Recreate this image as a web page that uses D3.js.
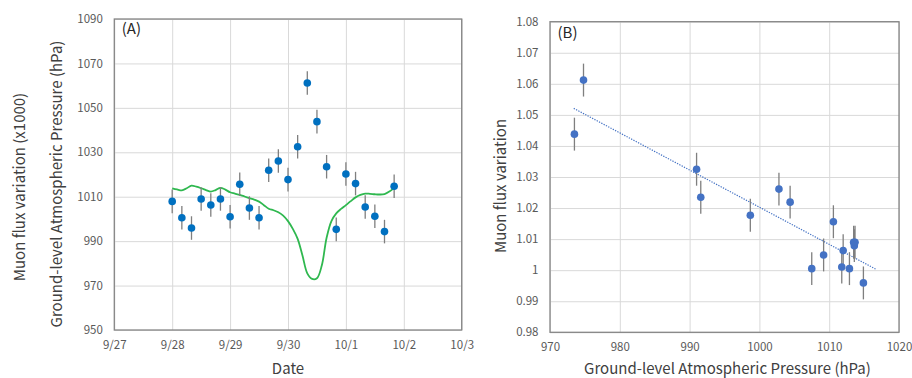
<!DOCTYPE html>
<html>
<head>
<meta charset="utf-8">
<script src="https://cdn.jsdelivr.net/npm/d3@7"></script>
<style>
  body { margin: 0; background: #fff; }
  svg text { font-family: "Noto Sans CJK JP", "Noto Sans", sans-serif; }
  .tick text { fill: #595959; font-size: 11.5px; }
  .grid line { stroke: #d9d9d9; stroke-width: 1; }
  .grid .domain { display: none; }
</style>
</head>
<body>
<div id="chart"></div>
<script>
// muon flux (x1000), every 4 hours from 9/28 00:00
var fluxHours = [0, 4, 8, 12, 16, 20, 24, 28, 32, 36, 40, 44, 48, 52, 56, 60, 64, 68, 72, 76, 80, 84, 88, 92];
var fluxValues = [1007.9, 1000.5, 995.9, 1009.0, 1006.3, 1009.0, 1001.0, 1015.6, 1004.9, 1000.5, 1021.9, 1026.1,
                  1017.7, 1032.5, 1061.2, 1043.8, 1023.5, 995.3, 1020.2, 1015.9, 1005.4, 1001.2, 994.3, 1014.7];
var fluxErr = 5.3;

// ground-level pressure, every 2 hours from 9/28 00:00
var pressHours = d3.range(0, 93, 2);
var pressValues = [1013.8, 1013.3, 1012.9, 1013.8, 1015.0, 1014.5, 1013.8, 1013.0, 1012.3, 1013.0, 1014.0, 1013.2,
                   1012.0, 1011.4, 1010.8, 1010.1, 1009.4, 1008.7, 1007.8, 1006.2, 1004.6, 1003.9, 1003.0, 1001.5,
                   999.0, 995.5, 991.0, 983.5, 975.5, 973.0, 973.3, 979.0, 991.5, 999.0, 1002.5, 1004.5,
                   1006.2, 1008.0, 1009.7, 1010.8, 1011.4, 1011.3, 1011.1, 1011.0, 1011.2, 1012.3, 1014.0];

// panel B: pressure at the first 17 flux samples
var scatterPress = [1013.6, 1012.9, 1014.9, 1013.5, 1012.0, 1013.7, 1011.8, 1010.6, 1009.2, 1007.5, 1004.4, 1002.8,
                    998.7, 991.0, 974.8, 973.5, 991.6];
var trendPress = [973.4, 1016.7];
var trendFlux = [1.0521, 1.0003];

var dateTicks = ["2018-09-27", "2018-09-28", "2018-09-29", "2018-09-30", "2018-10-01", "2018-10-02", "2018-10-03"];
var leftTicks = [950, 970, 990, 1010, 1030, 1050, 1070, 1090];
var bxTicks = [970, 980, 990, 1000, 1010, 1020];
var byTicks = [0.98, 0.99, 1.00, 1.01, 1.02, 1.03, 1.04, 1.05, 1.06, 1.07, 1.08];

var start = new Date(Date.UTC(2018, 8, 28));
function hourDate(h) { return new Date(start.getTime() + h * 3600e3); }

var svg = d3.select("#chart").append("svg")
  .attr("width", 912)
  .attr("height", 378);

// ---------- panel A ----------
var a = { left: 114.3, top: 19, width: 347.4, height: 311 };
var gA = svg.append("g").attr("transform", `translate(${a.left}, ${a.top})`);

var xA = d3.scaleUtc()
  .domain([new Date(dateTicks[0]), new Date(dateTicks[dateTicks.length - 1])])
  .range([0, a.width]);
var yA = d3.scaleLinear().domain([950, 1090]).range([a.height, 0]);
var dateVals = dateTicks.map(d => new Date(d));

gA.append("g").attr("class", "grid")
  .call(d3.axisLeft(yA).tickValues(leftTicks).tickSize(-a.width).tickFormat(""));
gA.append("g").attr("class", "grid")
  .call(d3.axisTop(xA).tickValues(dateVals).tickSize(-a.height).tickFormat(""));

gA.append("rect")
  .attr("width", a.width).attr("height", a.height)
  .attr("fill", "none").attr("stroke", "#868686").attr("stroke-width", 1.3);

var axA = gA.append("g")
  .call(d3.axisLeft(yA).tickValues(leftTicks).tickSize(0).tickPadding(11.5).tickFormat(d3.format("d")));
axA.select(".domain").remove();
var axAx = gA.append("g")
  .attr("transform", `translate(0, ${a.height})`)
  .call(d3.axisBottom(xA).tickValues(dateVals).tickSize(0).tickPadding(11).tickFormat(d3.utcFormat("%-m/%-d")));
axAx.select(".domain").remove();

var pressLine = d3.line()
  .x((d, i) => xA(hourDate(pressHours[i])))
  .y(d => yA(d))
  .curve(d3.curveCatmullRom);
gA.append("path")
  .datum(pressValues)
  .attr("d", pressLine)
  .attr("fill", "none")
  .attr("stroke", "#2fb84f")
  .attr("stroke-width", 1.8);

gA.selectAll(".errA")
  .data(fluxValues)
  .enter()
  .append("line")
  .attr("x1", (d, i) => xA(hourDate(fluxHours[i])))
  .attr("x2", (d, i) => xA(hourDate(fluxHours[i])))
  .attr("y1", d => yA(d - fluxErr))
  .attr("y2", d => yA(d + fluxErr))
  .attr("stroke", "#7f7f7f")
  .attr("stroke-width", 1.3);

gA.selectAll(".ptA")
  .data(fluxValues)
  .enter()
  .append("circle")
  .attr("cx", (d, i) => xA(hourDate(fluxHours[i])))
  .attr("cy", d => yA(d))
  .attr("r", 3.8)
  .attr("fill", "#0070c0");

gA.append("text")
  .attr("x", 7.5).attr("y", 14.5)
  .attr("font-size", 15).attr("fill", "#262626")
  .text("(A)");

svg.append("text")
  .attr("text-anchor", "middle")
  .attr("x", a.left + a.width / 2).attr("y", 374)
  .attr("font-size", 15).attr("fill", "#404040")
  .text("Date");
svg.append("text")
  .attr("text-anchor", "middle")
  .attr("transform", "translate(24.5, 187)rotate(-90)")
  .attr("font-size", 15).attr("fill", "#404040")
  .text("Muon flux variation (x1000)");
svg.append("text")
  .attr("text-anchor", "middle")
  .attr("transform", "translate(62, 184)rotate(-90)")
  .attr("font-size", 15).attr("fill", "#404040")
  .text("Ground-level Atmospheric Pressure (hPa)");

// ---------- panel B ----------
var b = { left: 550, top: 21.7, width: 349, height: 310.6 };
var gB = svg.append("g").attr("transform", `translate(${b.left}, ${b.top})`);

var xB = d3.scaleLinear().domain([970, 1020]).range([0, b.width]);
var yB = d3.scaleLinear().domain([0.98, 1.08]).range([b.height, 0]);

gB.append("g").attr("class", "grid")
  .call(d3.axisLeft(yB).tickValues(byTicks).tickSize(-b.width).tickFormat(""));
gB.append("g").attr("class", "grid")
  .call(d3.axisTop(xB).tickValues(bxTicks).tickSize(-b.height).tickFormat(""));

gB.append("rect")
  .attr("width", b.width).attr("height", b.height)
  .attr("fill", "none").attr("stroke", "#868686").attr("stroke-width", 1.3);

var axB = gB.append("g")
  .call(d3.axisLeft(yB).tickValues(byTicks).tickSize(0).tickPadding(11.5).tickFormat(d => String(+d.toFixed(2))));
axB.select(".domain").remove();
var axBx = gB.append("g")
  .attr("transform", `translate(0, ${b.height})`)
  .call(d3.axisBottom(xB).tickValues(bxTicks).tickSize(0).tickPadding(11).tickFormat(d3.format("d")));
axBx.select(".domain").remove();

gB.append("line")
  .attr("x1", xB(trendPress[0])).attr("y1", yB(trendFlux[0]))
  .attr("x2", xB(trendPress[1])).attr("y2", yB(trendFlux[1]))
  .attr("stroke", "#4472c4")
  .attr("stroke-width", 1.2)
  .attr("stroke-dasharray", "1.3,1.3");

var scatter = scatterPress.map((p, i) => ({ p: p, f: fluxValues[i] / 1000 }));

gB.selectAll(".errB")
  .data(scatter)
  .enter()
  .append("line")
  .attr("x1", d => xB(d.p))
  .attr("x2", d => xB(d.p))
  .attr("y1", d => yB(d.f - fluxErr / 1000))
  .attr("y2", d => yB(d.f + fluxErr / 1000))
  .attr("stroke", "#7f7f7f")
  .attr("stroke-width", 1.3);

gB.selectAll(".ptB")
  .data(scatter)
  .enter()
  .append("circle")
  .attr("cx", d => xB(d.p))
  .attr("cy", d => yB(d.f))
  .attr("r", 3.8)
  .attr("fill", "#4472c4");

gB.append("text")
  .attr("x", 7.5).attr("y", 16.5)
  .attr("font-size", 15).attr("fill", "#262626")
  .text("(B)");

svg.append("text")
  .attr("text-anchor", "middle")
  .attr("x", 727.5).attr("y", 374)
  .attr("font-size", 15).attr("fill", "#404040")
  .text("Ground-level Atmospheric Pressure (hPa)");
svg.append("text")
  .attr("text-anchor", "middle")
  .attr("transform", "translate(506, 186)rotate(-90)")
  .attr("font-size", 15).attr("fill", "#404040")
  .text("Muon flux variation");
</script>
</body>
</html>
